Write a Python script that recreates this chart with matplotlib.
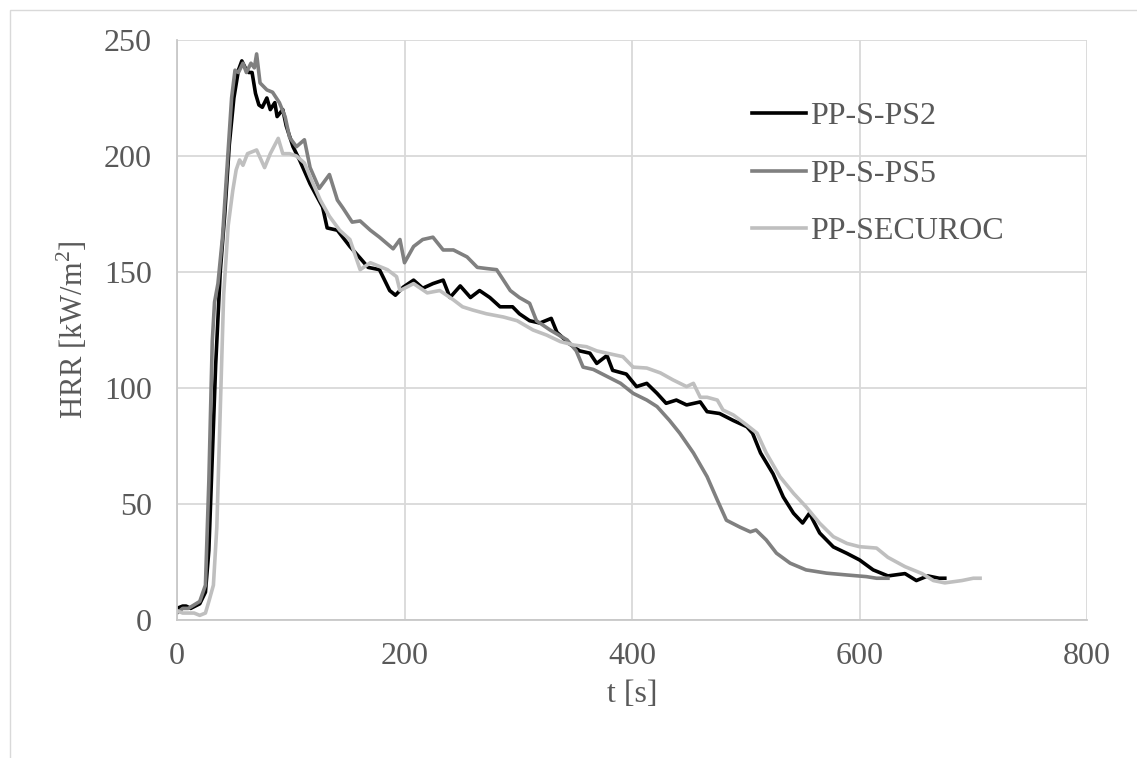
import matplotlib.pyplot as plt
from matplotlib.patches import Rectangle

plt.rcParams['font.family'] = ['Liberation Serif', 'DejaVu Serif']
plt.rcParams['mathtext.fontset'] = 'custom'
plt.rcParams['mathtext.rm'] = 'Liberation Serif'

# PP-S-PS2 (black)
t_ps2 = [0, 5, 8, 12, 20, 25, 28, 31, 34, 38, 42, 46, 50, 54, 57, 60, 63, 66, 69, 72,
         75, 79, 82, 86, 88, 93, 96, 102, 108, 117, 128, 132, 141, 152, 161, 168, 178, 187, 192, 199,
         208, 216, 225, 234, 240, 249, 258, 266, 275, 284, 295, 301, 310, 319, 329, 334, 345, 354, 363, 369,
         378, 383, 395, 404, 413, 422, 430, 439, 448, 460, 466, 477, 489, 501, 506, 513, 524, 533, 542, 550,
         556, 565, 577, 589, 600, 612, 625, 640, 650, 660, 670, 675]
v_ps2 = [5, 6, 6, 5, 7, 12, 30, 70, 110, 150, 175, 205, 225, 237, 241, 238, 236, 236, 227, 222,
         221, 225, 220, 223, 217, 220, 213, 204, 198, 188, 178, 169, 168, 161, 156, 152, 151, 142, 140, 143.5,
         146.5, 143, 145, 146.5, 139, 144, 139, 142, 139, 135, 135, 132, 129, 128, 130, 124, 119, 116, 115, 110.6,
         114, 107.6, 106, 100.6, 102, 97.7, 93.4, 94.8, 92.7, 94, 89.8, 89, 86, 83.3, 80.5, 72, 63, 53, 46, 41.8,
         46, 37.5, 31.5, 28.7, 25.9, 21.6, 19, 20, 17, 19, 18, 18]

# PP-S-PS5 (dark grey)
t_ps5 = [0, 5, 10, 20, 25, 28, 31, 33, 36, 40, 44, 48, 51, 54, 58, 61, 65, 68, 70, 73,
         79, 84, 90, 95, 99, 105, 112, 117, 125, 134, 141, 146, 154, 161, 170, 178, 190, 196, 200, 208,
         216, 225, 234, 243, 255, 264, 272, 281, 293, 301, 310, 316, 328, 343, 351, 357, 366, 378, 390, 401,
         413, 422, 433, 442, 454, 466, 475, 483, 495, 504, 509, 518, 527, 539, 553, 571, 589, 606, 615, 625]
v_ps5 = [3, 5, 5, 8, 15, 60, 120, 137, 145, 165, 195, 225, 237, 236, 240, 236, 240, 238, 244, 231.5,
         228.5, 227.5, 223, 217, 208, 204, 207, 195, 186, 192, 181, 177.5, 171.5, 172, 168, 165, 160, 164, 154, 161,
         164, 165, 159.5, 159.5, 156.5, 152, 151.5, 151, 142, 139, 136.5, 129, 125, 120.7, 116, 109, 108, 105, 102, 97.7,
         94.8, 92, 86, 80.5, 72, 61.8, 51.7, 43, 40, 38, 38.8, 34.5, 28.8, 24.5, 21.6, 20.2, 19.4, 18.7, 18, 18]

# PP-SECUROC (light grey)
t_sec = [0, 5, 10, 15, 20, 25, 28, 32, 35, 38, 41, 45, 49, 52, 55, 58, 62, 70, 77, 82,
         89, 93, 99, 105, 112, 117, 126, 134, 143, 152, 161, 170, 185, 193, 196, 208, 220, 231, 243, 251,
         260, 272, 287, 299, 313, 325, 337, 349, 360, 369, 378, 392, 401, 413, 425, 436, 448, 454, 460, 466,
         475, 480, 489, 501, 510, 518, 530, 542, 553, 565, 577, 589, 600, 615, 625, 640, 655, 665, 675, 690,
         700, 706]
v_sec = [4, 3, 3, 3, 2, 3, 8, 15, 40, 90, 140, 170, 185, 194, 198.3, 196, 201, 202.6, 195, 201,
         207.6, 201, 201, 200, 197, 191, 181, 174, 168, 164, 151, 154, 151, 148, 142, 145, 141, 142, 138, 135,
         133.6, 132, 130.6, 129, 125, 122.8, 120, 118.5, 117.8, 116, 115, 113.5, 109, 108.6, 106.5, 103.5, 100.6, 102, 96, 96,
         94.8, 90.5, 88.4, 84, 80.5, 72, 61.8, 54.6, 48.8, 41.7, 35.9, 33, 31.6, 31, 27, 23, 20, 17, 16, 17,
         18, 18]

labels = ['PP-S-PS2', 'PP-S-PS5', 'PP-SECUROC']
colors = ['#000000', '#808080', '#BFBFBF']
text_color = '#595959'

fig = plt.figure(figsize=(11.37, 7.58), dpi=100)
fig.patches.append(Rectangle((10 / 1137, -0.01), 1.1, 1 - 10 / 758 + 0.01,
                             transform=fig.transFigure, fill=False,
                             edgecolor='#D9D9D9', linewidth=1))
ax = fig.add_axes([177 / 1137, 1 - 620 / 758, 910 / 1137, 580 / 758])

series = [(t_ps2, v_ps2), (t_ps5, v_ps5), (t_sec, v_sec)]
for (t, v), lab, col in zip(series, labels, colors):
    ax.plot(t, v, color=col, linewidth=2.6, label=lab)

ax.set_xlim(0, 800)
ax.set_ylim(0, 250)
ax.set_xticks(range(0, 801, 200))
ax.set_yticks(range(0, 251, 50))
ax.grid(True, color='#D9D9D9', linewidth=1.3)
ax.set_axisbelow(True)
for s in ax.spines.values():
    s.set_visible(False)
for side in ('left', 'bottom'):
    ax.spines[side].set_visible(True)
    ax.spines[side].set_color('#C8C8C8')
    ax.spines[side].set_linewidth(1.3)
ax.tick_params(length=0, labelsize=23, labelcolor=text_color)
ax.tick_params(axis='y', pad=18)
ax.tick_params(axis='x', pad=16)
ax.set_xlabel('t [s]', fontsize=23, color=text_color, labelpad=6)
ax.set_ylabel(r'HRR [kW/m$^{\mathrm{2}}$]', fontsize=22, color=text_color, labelpad=10)

ax.legend(loc='upper left', bbox_to_anchor=(752 / 1137, 1 - 102 / 758),
          bbox_transform=fig.transFigure, frameon=False, fontsize=23,
          handlelength=1.7, handletextpad=0.12, labelspacing=0.88,
          borderpad=0, borderaxespad=0, labelcolor=text_color)

fig.savefig('out.png', dpi=100)
